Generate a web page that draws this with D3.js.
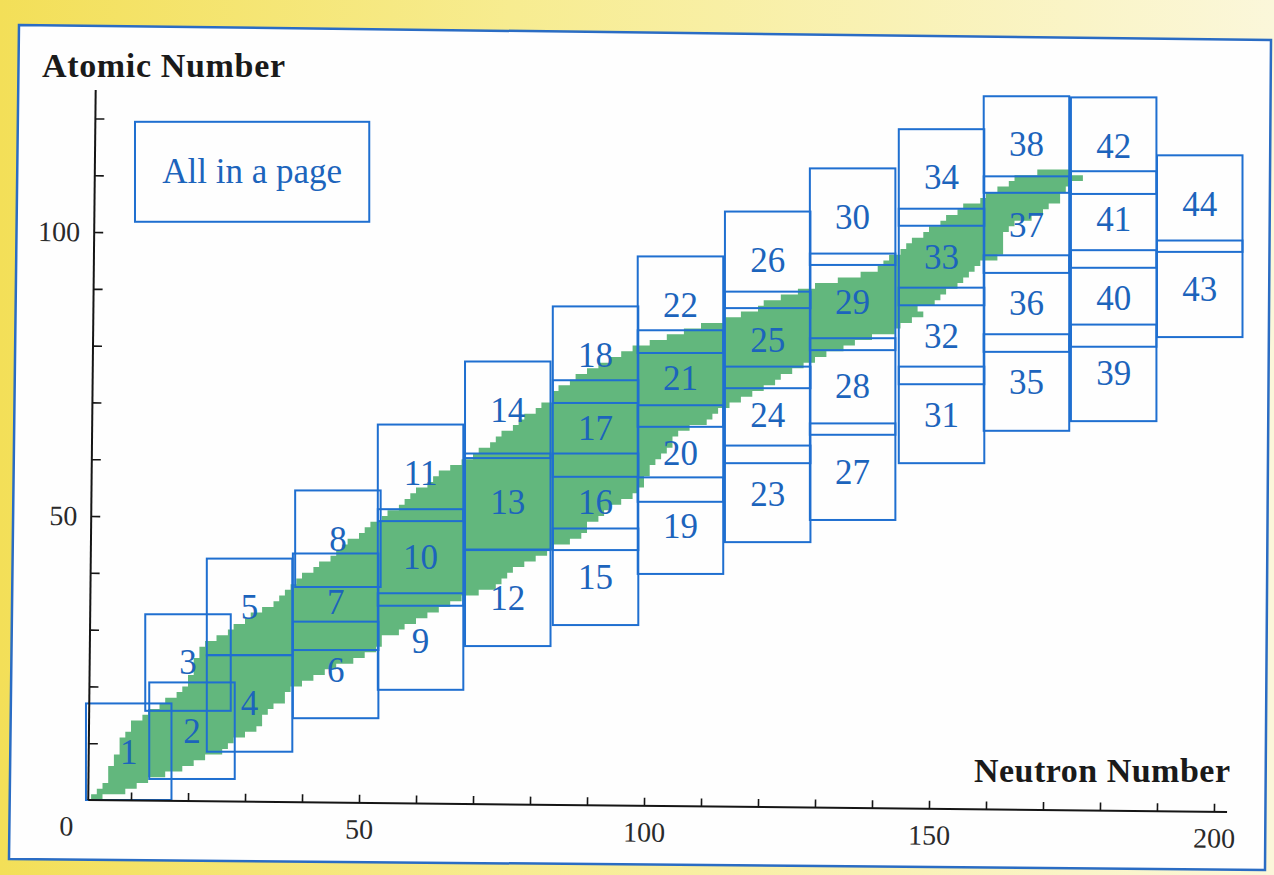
<!DOCTYPE html>
<html>
<head>
<meta charset="utf-8">
<script src="https://cdn.jsdelivr.net/npm/d3@7"></script>
<style>
  html, body { margin: 0; padding: 0; background: #f5e873; }
  svg { display: block; }
</style>
</head>
<body>
<svg id="chart" width="1274" height="875"></svg>
<script>
// Known nuclides: for each proton number Z (array index) the neutron range N lo..hi
const bandNLo = [
  3, 4, 5, 6, 6, 6, 7, 7, 8, 8,
  8, 9, 10, 10, 12, 13, 15, 16, 18, 19,
  20, 20, 21, 21, 21, 22, 22, 23, 25, 27,
  28, 30, 31, 33, 35, 36, 37, 38, 39, 40,
  42, 43, 45, 46, 47, 48, 50, 51, 52, 54,
  55, 57, 58, 59, 60, 62, 63, 64, 66, 68,
  70, 71, 73, 74, 75, 77, 78, 79, 81, 82,
  84, 84, 85, 87, 88, 90, 92, 94, 96, 98,
  101, 104, 107, 110, 114, 117, 120, 121, 124, 127,
  130, 134, 138, 141, 142, 143, 145, 146, 147, 149,
  150, 152, 153, 155, 156, 159, 160, 162, 164, 165,
  169
];
const bandNHi = [
  5, 9, 11, 13, 16, 19, 21, 23, 26, 27,
  28, 30, 32, 33, 33, 34, 35, 37, 37, 38,
  40, 42, 44, 46, 49, 51, 53, 54, 54, 57,
  58, 60, 62, 64, 66, 68, 71, 74, 75, 76,
  77, 79, 81, 83, 84, 87, 89, 90, 90, 92,
  93, 94, 96, 98, 99, 100, 100, 101, 101, 102,
  103, 104, 105, 105, 106, 108, 111, 112, 113, 115,
  117, 119, 121, 123, 124, 126, 128, 130, 132, 135,
  137, 140, 144, 145, 147, 149, 148, 151, 152, 153,
  155, 156, 157, 158, 159, 162, 163, 163, 163, 163,
  164, 165, 168, 170, 171, 173, 173, 174, 175, 177,
  175
];

// Pages of the chart: lower-left corner (N, Z) of each numbered page
const pageIds = d3.range(1, 45);
const pageN = [
  2.1, 13.2, 12.5, 23.3, 23.3, 38.4, 38.4, 38.8, 53.3, 53.3,
  53.3, 68.6, 68.6, 68.6, 84.0, 84.0, 84.0, 84.0, 98.9, 98.9,
  98.9, 98.9, 114.2, 114.2, 114.2, 114.2, 129.1, 129.1, 129.1, 129.1,
  144.7, 144.7, 144.7, 144.7, 159.6, 159.6, 159.6, 159.6, 174.9, 174.9,
  174.9, 174.9, 190.0, 190.0
];
const pageZ = [
  0, 3.7, 15.7, 8.5, 25.5, 14.4, 26.4, 37.5, 19.4, 34.2,
  49.1, 27.1, 44.0, 60.2, 30.8, 44.0, 56.9, 69.9, 39.8, 52.5,
  65.7, 78.7, 45.4, 59.3, 72.5, 86.6, 49.3, 64.3, 79.2, 94.2,
  59.3, 73.2, 87.1, 101.1, 65.0, 78.9, 92.8, 106.9, 66.7, 79.8,
  93.7, 106.7, 81.5, 96.5
];
const PAGE_W = 15, PAGE_H = 17;

const xMinorTicks = d3.range(10, 201, 10);
const yMinorTicks = d3.range(10, 121, 10);
const xTickLabels = [0, 50, 100, 150, 200];
const yTickLabels = [50, 100];

const noteText = "All in a page";
const noteBox = { n0: 10.7, n1: 51.8, z0: 101.8, z1: 119.4 };

const SERIF = "'Liberation Serif', 'Times New Roman', serif";
const BLUE = "#1f6fd0";
const GREEN = "#62b77d";

const svg = d3.select("#chart");

// scales
const x = d3.scaleLinear().domain([0, 200]).range([74, 1214]);
const y = d3.scaleLinear().domain([0, 120]).range([800, 800 - 5.68 * 120]);

// background (yellow slide)
const defs = svg.append("defs");
const bg = defs.append("linearGradient").attr("id", "bg").attr("x1", 0).attr("x2", 1).attr("y1", 0).attr("y2", 0);
bg.append("stop").attr("offset", 0).attr("stop-color", "#f3df58");
bg.append("stop").attr("offset", 0.4).attr("stop-color", "#f7ec90");
bg.append("stop").attr("offset", 1).attr("stop-color", "#fbf7da");
svg.append("rect").attr("width", 1274).attr("height", 875).attr("fill", "url(#bg)");

// white panel (photo is slightly tilted)
svg.append("polygon")
  .attr("points", [[19, 25], [1271, 40], [1265, 870], [9, 859]].map(p => p.join(",")).join(" "))
  .attr("fill", "#fefefe")
  .attr("stroke", "#2a6cc4")
  .attr("stroke-width", 2.5);

// nuclide band as one staircase outline
const outline = [];
bandNLo.forEach((lo, z) => {
  outline.push([x(lo), y(z)], [x(lo), y(z + 1)]);
});
for (let z = bandNHi.length - 1; z >= 0; z--) {
  outline.push([x(bandNHi[z]), y(z + 1)], [x(bandNHi[z]), y(z)]);
}
svg.append("path")
  .attr("d", d3.line()(outline) + "Z")
  .attr("fill", GREEN);

// pages
const pages = svg.append("g");
pages.selectAll("rect")
  .data(pageIds)
  .join("rect")
  .attr("x", (d, i) => x(pageN[i]))
  .attr("y", (d, i) => y(pageZ[i] + PAGE_H))
  .attr("width", (d, i) => x(pageN[i] + PAGE_W) - x(pageN[i]))
  .attr("height", (d, i) => y(pageZ[i]) - y(pageZ[i] + PAGE_H))
  .attr("fill", "none")
  .attr("stroke", BLUE)
  .attr("stroke-width", 2);

pages.selectAll("text")
  .data(pageIds)
  .join("text")
  .attr("x", (d, i) => x(pageN[i] + PAGE_W / 2))
  .attr("y", (d, i) => y(pageZ[i] + PAGE_H / 2))
  .attr("dy", "0.34em")
  .attr("text-anchor", "middle")
  .attr("font-family", SERIF)
  .attr("font-size", 35)
  .attr("fill", "#1c64bc")
  .text(d => d);

// "All in a page" note
svg.append("rect")
  .attr("x", x(noteBox.n0))
  .attr("y", y(noteBox.z1))
  .attr("width", x(noteBox.n1) - x(noteBox.n0))
  .attr("height", y(noteBox.z0) - y(noteBox.z1))
  .attr("fill", "none")
  .attr("stroke", BLUE)
  .attr("stroke-width", 2);
svg.append("text")
  .attr("x", x((noteBox.n0 + noteBox.n1) / 2))
  .attr("y", y((noteBox.z0 + noteBox.z1) / 2))
  .attr("dy", "0.32em")
  .attr("text-anchor", "middle")
  .attr("font-family", SERIF)
  .attr("font-size", 35)
  .attr("fill", "#1c64bc")
  .text(noteText);

// axes (tilted with the photo)
const axes = svg.append("g").attr("transform", `rotate(0.6, ${x(2.5)}, ${y(0)})`);

axes.append("line")
  .attr("x1", x(2.5)).attr("x2", x(202.3))
  .attr("y1", y(0)).attr("y2", y(0))
  .attr("stroke", "#151515").attr("stroke-width", 2);
axes.append("line")
  .attr("x1", x(2.5)).attr("x2", x(2.5))
  .attr("y1", y(0)).attr("y2", y(125))
  .attr("stroke", "#151515").attr("stroke-width", 2);

const xTicks = axes.append("g")
  .attr("transform", `translate(0,${y(0)})`)
  .call(d3.axisBottom(x).tickValues(xMinorTicks).tickSize(-8).tickFormat(""));
const yTicks = axes.append("g")
  .attr("transform", `translate(${x(2.5)},0)`)
  .call(d3.axisLeft(y).tickValues(yMinorTicks).tickSize(-9).tickFormat(""));
[xTicks, yTicks].forEach(g => {
  g.select(".domain").remove();
  g.selectAll("line").attr("stroke", "#151515").attr("stroke-width", 1.6);
});

const xLabels = axes.append("g")
  .attr("transform", `translate(0,${y(0)})`)
  .call(d3.axisBottom(x).tickValues(xTickLabels).tickSize(0).tickPadding(16).tickFormat(d3.format("d")));
const yLabels = axes.append("g")
  .attr("transform", `translate(${x(2.5)},0)`)
  .call(d3.axisLeft(y).tickValues(yTickLabels).tickSize(0).tickPadding(14).tickFormat(d3.format("d")));
[xLabels, yLabels].forEach(g => {
  g.select(".domain").remove();
  g.selectAll("text")
    .attr("font-family", SERIF)
    .attr("font-size", 28)
    .attr("fill", "#2a2a2a");
});
// the "0" sits a little left of its tick in the original
xLabels.selectAll(".tick").filter(d => d === 0).select("text").attr("dx", -8);

// axis titles
svg.append("text")
  .attr("x", 42).attr("y", 77)
  .attr("font-family", SERIF).attr("font-weight", "bold").attr("font-size", 34)
  .attr("fill", "#1a1a1a")
  .attr("textLength", 243).attr("lengthAdjust", "spacing")
  .text("Atomic Number");
svg.append("text")
  .attr("x", 974).attr("y", 782)
  .attr("font-family", SERIF).attr("font-weight", "bold").attr("font-size", 34)
  .attr("fill", "#1a1a1a")
  .attr("textLength", 256).attr("lengthAdjust", "spacing")
  .text("Neutron Number");
</script>
</body>
</html>
